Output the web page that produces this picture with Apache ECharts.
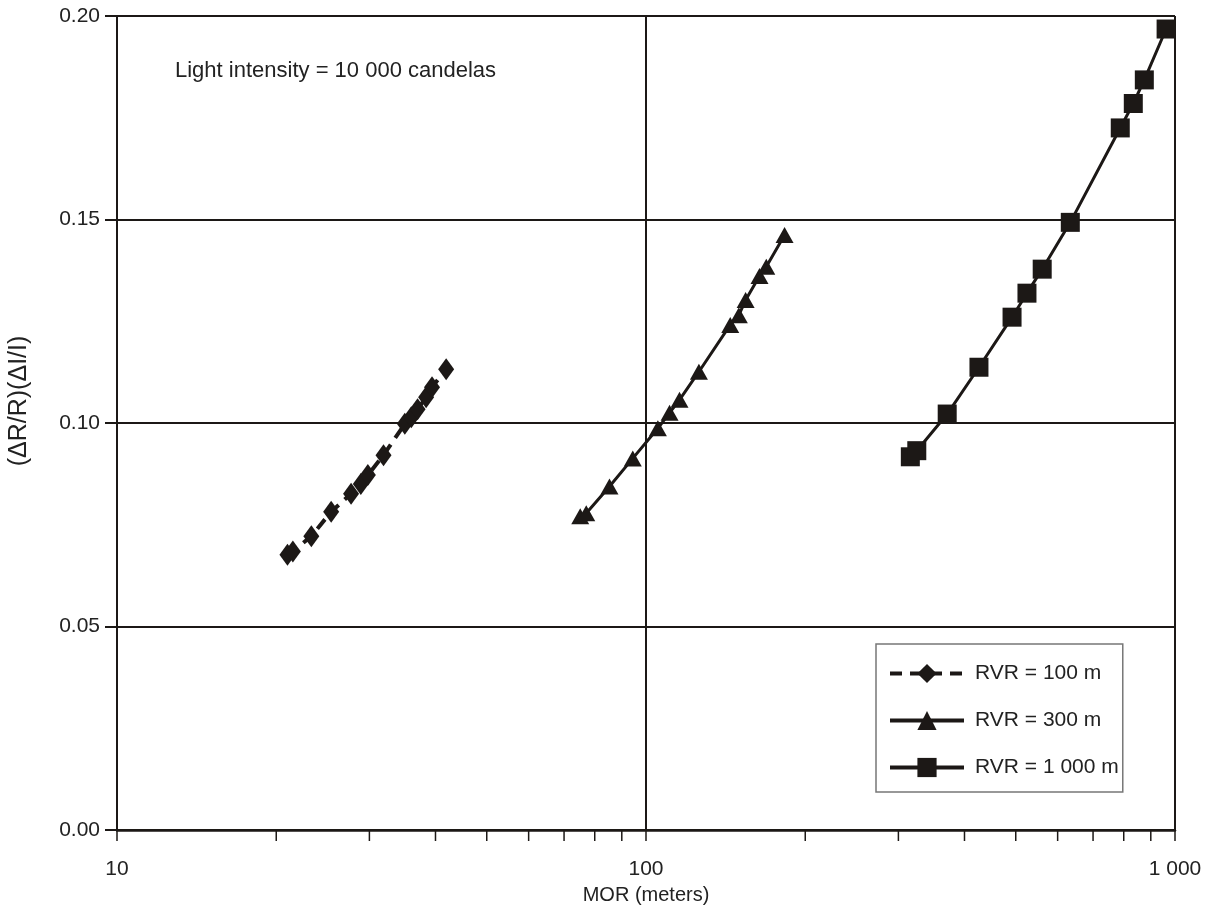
<!DOCTYPE html>
<html><head><meta charset="utf-8">
<script src="https://cdn.jsdelivr.net/npm/echarts@6/dist/echarts.min.js"></script>
<style>html,body{margin:0;padding:0;background:#fff}#c{width:1205px;height:922px}</style>
</head><body><div id="c"></div>
<script>
// MOR (m), (ΔR/R)(ΔI/I)
const rvr100 = [[21.0,0.0676],[21.5,0.0684],[23.3,0.0722],[25.4,0.0782],[27.7,0.0826],[28.9,0.0850],[29.8,0.0872],[31.9,0.0921],[35.0,0.0998],[36.0,0.1014],[37.0,0.1034],[38.4,0.1063],[39.4,0.1088],[41.9,0.1132]];
const rvr300 = [[75.1,0.0771],[77.1,0.0778],[85.3,0.0844],[94.4,0.0913],[105.3,0.0987],[110.8,0.1025],[115.7,0.1057],[125.9,0.1126],[144.3,0.1241],[149.8,0.1265],[154.3,0.1302],[163.9,0.1361],[168.8,0.1384],[182.8,0.1462]];
const rvr1000 = [[316,0.0917],[325,0.0932],[371,0.1022],[426,0.1137],[492,0.1260],[525,0.1319],[561,0.1378],[634,0.1493],[788,0.1725],[834,0.1785],[875,0.1843],[962,0.1968]];
const minorTicks = [20,30,40,50,60,70,80,90,200,300,400,500,600,700,800,900];
const seriesNames = ['RVR = 100 m','RVR = 300 m','RVR = 1 000 m'];
const xLabels = {10:'10',100:'100',1000:'1 000'};
const noteText = 'Light intensity = 10 000 candelas';

const INK = '#1c1816';
const FONT = "'Liberation Sans', Arial, sans-serif";
const chart = echarts.init(document.getElementById('c'), null, {renderer:'canvas'});
chart.setOption({
  animation:false,
  backgroundColor:'#fff',
  textStyle:{fontFamily:FONT, color:'#222'},
  title:{text:noteText, left:170, top:55, textStyle:{fontFamily:FONT, fontSize:22, fontWeight:'normal', color:'#222'}},
  grid:{left:117, right:30, top:16, bottom:92, containLabel:false, outerBoundsMode:'none'},
  legend:{
    orient:'vertical', left:876, top:644,
    padding:[19,4,14,12], itemGap:26, itemWidth:74, itemHeight:24,
    borderColor:'#777', borderWidth:1.5, backgroundColor:'#fff',
    lineStyle:{width:4},
    textStyle:{fontFamily:FONT, fontSize:21, color:'#222', padding:[0,0,0,6]},
    data:seriesNames
  },
  xAxis:{
    type:'log', logBase:10, min:10, max:1000,
    name:'MOR (meters)', nameLocation:'middle', nameGap:55,
    nameTextStyle:{fontFamily:FONT, fontSize:20, color:'#222'},
    axisLine:{lineStyle:{color:INK, width:2.5}},
    axisTick:{show:true, length:11, lineStyle:{color:INK, width:1.5}},
    minorTick:{show:false},
    axisLabel:{margin:29, fontFamily:FONT, fontSize:21, color:'#222', formatter:v=>xLabels[v] || String(v)},
    splitLine:{show:true, lineStyle:{color:INK, width:2}}
  },
  yAxis:{
    type:'value', min:0, max:0.2, interval:0.05,
    name:'(ΔR/R)(ΔI/I)', nameLocation:'middle', nameGap:85,
    nameTextStyle:{fontFamily:FONT, fontSize:25, color:'#222', padding:[0,0,0,44]},
    axisLine:{show:true, lineStyle:{color:INK, width:2}},
    axisTick:{show:true, length:12, lineStyle:{color:INK, width:2}},
    axisLabel:{margin:17, fontFamily:FONT, fontSize:21, color:'#222', formatter:v=>v.toFixed(2)},
    splitLine:{show:true, lineStyle:{color:INK, width:2}}
  },
  series:[
    {name:seriesNames[0], type:'line', data:rvr100, symbol:'diamond', symbolSize:[16,22],
     lineStyle:{color:INK, width:4, type:[12,8]}, itemStyle:{color:INK}, z:5},
    {name:seriesNames[1], type:'line', data:rvr300, symbol:'triangle', symbolSize:[18,16],
     lineStyle:{color:INK, width:3}, itemStyle:{color:INK}, z:5},
    {name:seriesNames[2], type:'line', data:rvr1000, symbol:'rect', symbolSize:19,
     lineStyle:{color:INK, width:3}, itemStyle:{color:INK}, z:5},
    {type:'custom', data:minorTicks.map(v=>[v,0]), clip:false, silent:true, z:6,
     renderItem:(params, api)=>{
       const p = api.coord([api.value(0), api.value(1)]);
       return {type:'line', shape:{x1:p[0], y1:p[1], x2:p[0], y2:p[1]+11}, style:{stroke:INK, lineWidth:1.5}};
     }}
  ]
});
</script></body></html>
